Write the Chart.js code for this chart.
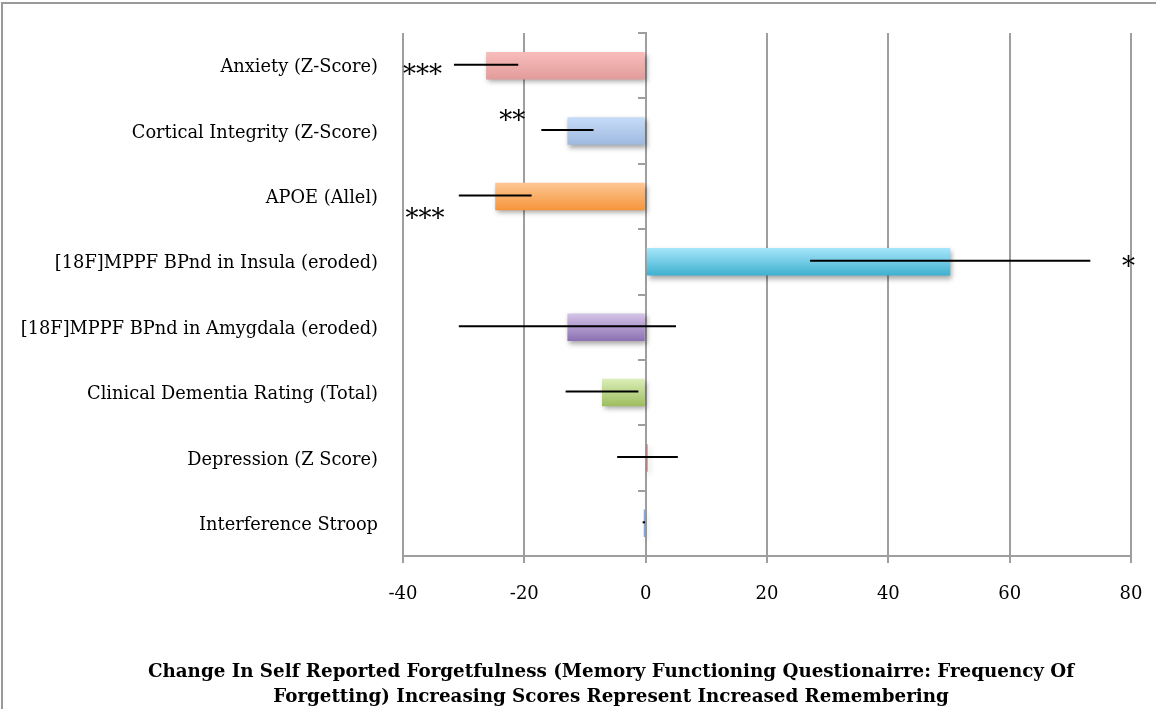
<!DOCTYPE html>
<html>
<head>
<meta charset="utf-8">
<script src="https://cdn.jsdelivr.net/npm/chart.js"></script>
<style>
  body { margin: 0; background: #fff; }
  #wrap { position: relative; width: 1156px; height: 709px; }
  #frame { position: absolute; left: 1px; top: 2px; width: 1200px; height: 800px;
           border-top: 2px solid #9a9a9a; border-left: 2px solid #9a9a9a; }
  canvas { position: absolute; left: 0; top: 0; }
</style>
</head>
<body>
<div id="wrap">
  <div id="frame"></div>
  <canvas id="myChart" width="1156" height="709"></canvas>
</div>
<script>
const categories = [
  "Anxiety (Z-Score)",
  "Cortical Integrity (Z-Score)",
  "APOE (Allel)",
  "[18F]MPPF BPnd in Insula (eroded)",
  "[18F]MPPF BPnd in Amygdala (eroded)",
  "Clinical Dementia Rating (Total)",
  "Depression (Z Score)",
  "Interference Stroop"
];
const values = [-26.3, -12.9, -24.8, 50.2, -12.9, -7.2, 0.3, -0.3];
const errors = [5.3, 4.3, 6.0, 23.1, 17.9, 6.0, 5.0, 0.2];
const stars = ["***", "**", "***", "*", "", "", "", ""];
const xTicks = [-40, -20, 0, 20, 40, 60, 80];
const axisTitle = [
  "Change In Self Reported Forgetfulness (Memory Functioning Questionairre: Frequency Of",
  "Forgetting) Increasing Scores Represent Increased Remembering"
];

const topColors = ["#f8bdbb", "#c6dcf8", "#fdc796", "#a6e6fa", "#d5c5e8", "#dbeeb8", "#d0504c", "#4f81bd"];
const bottomColors = ["#e19c9a", "#9fb8df", "#f6953a", "#3eb0cf", "#8c70b2", "#9dbd5e", "#d0504c", "#4f81bd"];

// where each star label sits: x in data units, y shift in pixels, alignment
const starPlace = [
  { x: -40, dy: 5, align: "left" },
  { x: -22, dy: -15, align: "center" },
  { x: -39.6, dy: 18, align: "left" },
  { x: 79.6, dy: 0, align: "center" }
];

const serif = "'DejaVu Serif', serif";

function barGradient(ctx, colorIdx) {
  const chart = ctx.chart;
  if (!chart.chartArea || !chart.scales.y) return topColors[colorIdx];
  const y = chart.scales.y;
  const c = y.getPixelForValue(ctx.dataIndex);
  const half = (y.height / categories.length) * 0.42 / 2;
  const g = chart.ctx.createLinearGradient(0, c - half, 0, c + half);
  g.addColorStop(0, topColors[colorIdx]);
  g.addColorStop(1, bottomColors[colorIdx]);
  return g;
}

const shadowPlugin = {
  id: "barShadow",
  beforeDatasetsDraw(chart) {
    const ctx = chart.ctx;
    ctx.save();
    ctx.shadowColor = "rgba(0,0,0,0.35)";
    ctx.shadowBlur = 5;
    ctx.shadowOffsetX = 2;
    ctx.shadowOffsetY = 3;
  },
  afterDatasetsDraw(chart) {
    chart.ctx.restore();
  }
};

const errorBarPlugin = {
  id: "errorBars",
  afterDatasetsDraw(chart) {
    const ctx = chart.ctx;
    const x = chart.scales.x;
    const y = chart.scales.y;
    ctx.save();
    ctx.strokeStyle = "#000";
    ctx.lineWidth = 2;
    values.forEach((v, i) => {
      const yy = y.getPixelForValue(i) - 1;
      ctx.beginPath();
      ctx.moveTo(x.getPixelForValue(v - errors[i]), yy);
      ctx.lineTo(x.getPixelForValue(v + errors[i]), yy);
      ctx.stroke();
    });
    ctx.fillStyle = "#000";
    ctx.textBaseline = "middle";
    ctx.font = "26px " + serif;
    stars.forEach((s, i) => {
      if (!s) return;
      const p = starPlace[i];
      ctx.textAlign = p.align;
      ctx.fillText(s, x.getPixelForValue(p.x), y.getPixelForValue(i) + p.dy + 6);
    });
    ctx.restore();
  }
};

// bottom title, centred under the whole figure rather than the plot
const bottomTitle = {
  id: "bottomTitle",
  afterDraw(chart) {
    const ctx = chart.ctx;
    ctx.save();
    ctx.fillStyle = "#000";
    ctx.font = "bold 18.3px " + serif;
    ctx.textAlign = "center";
    ctx.textBaseline = "middle";
    axisTitle.forEach((line, i) => {
      ctx.fillText(line, 611, 672 + i * 25);
    });
    ctx.restore();
  }
};

const myChart = document.getElementById("myChart");

let barChart = new Chart(myChart, {
  type: "bar",
  data: {
    labels: categories,
    datasets: [
      {
        data: values,
        backgroundColor: (ctx) => barGradient(ctx, ctx.dataIndex),
        borderWidth: 0,
        categoryPercentage: 1,
        barPercentage: 0.42,
      },
    ],
  },
  plugins: [shadowPlugin, errorBarPlugin, bottomTitle],
  options: {
    indexAxis: "y",
    responsive: false,
    animation: false,
    layout: { padding: { left: 0, right: 25, top: 33, bottom: 60 } },
    plugins: {
      legend: { display: false },
      tooltip: { enabled: false },
    },
    scales: {
      x: {
        min: -40,
        max: 80,
        afterBuildTicks(scale) {
          scale.ticks = xTicks.map((v) => ({ value: v }));
        },
        afterFit(scale) {
          scale.height = 93;
          scale.paddingLeft = 0;
          scale.paddingRight = 0;
        },
        grid: { color: "#9e9e9e", lineWidth: 2, tickLength: 7 },
        border: { color: "#9e9e9e", width: 2 },
        ticks: { color: "#000", font: { family: serif, size: 18 }, padding: 21 },
      },
      y: {
        afterFit(scale) {
          scale.width = 403;
        },
        grid: { display: false },
        border: { display: false },
        ticks: { color: "#000", font: { family: serif, size: 17.8 }, padding: 17, labelOffset: 2 },
      },
      y2: {
        type: "category",
        labels: categories,
        axis: "y",
        position: { x: 0 },
        offset: true,
        grid: { offset: true, drawOnChartArea: false, color: "#9e9e9e", lineWidth: 2, tickLength: 7 },
        border: { color: "#9e9e9e", width: 2 },
        ticks: { display: false },
      },
    },
  },
});
</script>
</body>
</html>
